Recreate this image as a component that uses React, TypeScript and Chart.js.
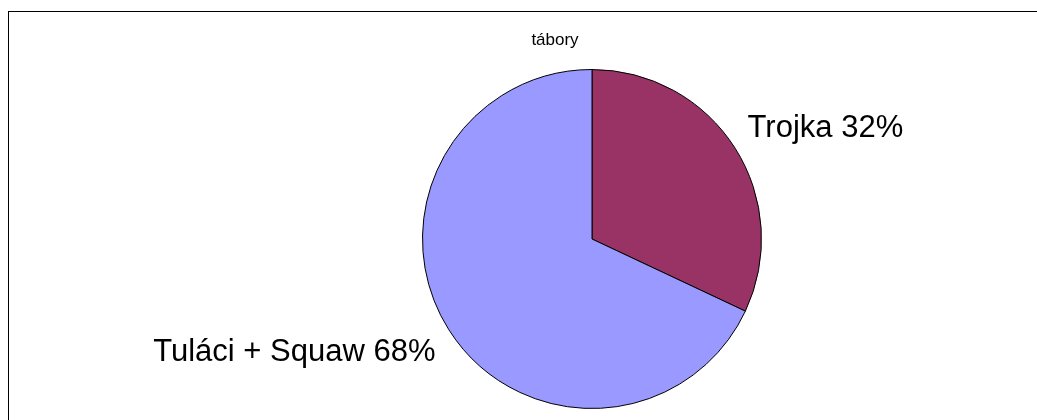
import React, { useEffect, useRef } from "react";
import { Chart, registerables } from "chart.js";

Chart.register(...registerables);

const titleText = "tábory";
const categories = ["Trojka", "Tuláci + Squaw"];
const values = [32, 68];
const colors = ["#993366", "#9999FF"];

const labelPlugin = {
  id: "sliceLabels",
  afterDraw(chart: any) {
    const ctx = chart.ctx;
    const meta = chart.getDatasetMeta(0);
    const data = chart.data.datasets[0].data as number[];
    const total = data.reduce((a, b) => a + b, 0);
    ctx.save();
    ctx.fillStyle = "#000";
    ctx.font = '31px "Liberation Sans", Arial, sans-serif';
    meta.data.forEach((arc: any, i: number) => {
      const p = arc.getProps(["x", "y", "startAngle", "endAngle", "outerRadius"], true);
      const mid = (p.startAngle + p.endAngle) / 2;
      const r = p.outerRadius + 10;
      const ax = p.x + Math.cos(mid) * r;
      const ay = p.y + Math.sin(mid) * r;
      const right = Math.cos(mid) >= 0;
      const pct = Math.round((data[i] / total) * 100);
      const text = `${chart.data.labels[i]} ${pct}%`;
      ctx.textAlign = right ? "left" : "right";
      ctx.textBaseline = right ? "bottom" : "top";
      ctx.fillText(text, ax + (right ? 4 : -5), ay + (right ? 1 : 2));
    });
    // title
    ctx.font = '17px "Liberation Sans", Arial, sans-serif';
    ctx.textAlign = "center";
    ctx.textBaseline = "alphabetic";
    ctx.fillText(titleText, 546, 33);
    ctx.restore();
  },
};

export default function App() {
  const ref = useRef<HTMLCanvasElement>(null);
  useEffect(() => {
    if (!ref.current) return;
    const chart = new Chart(ref.current, {
      type: "pie",
      data: {
        labels: categories,
        datasets: [
          {
            data: values,
            backgroundColor: colors,
            borderColor: "#000",
            borderWidth: 1,
          },
        ],
      },
      options: {
        responsive: false,
        animation: false,
        layout: { padding: { top: 57, bottom: 11, left: 413, right: 275 } },
        plugins: {
          legend: { display: false },
          title: { display: false },
          tooltip: { enabled: false },
        },
      },
      plugins: [labelPlugin],
    });
    return () => chart.destroy();
  }, []);
  return (
    <div
      style={{
        position: "absolute",
        left: 8,
        top: 11,
        width: 1029,
        height: 409,
        borderTop: "1px solid #000",
        borderLeft: "1px solid #000",
        boxSizing: "border-box",
        background: "#fff",
      }}
    >
      <canvas ref={ref} width={1028} height={408} style={{ display: "block" }} />
    </div>
  );
}
